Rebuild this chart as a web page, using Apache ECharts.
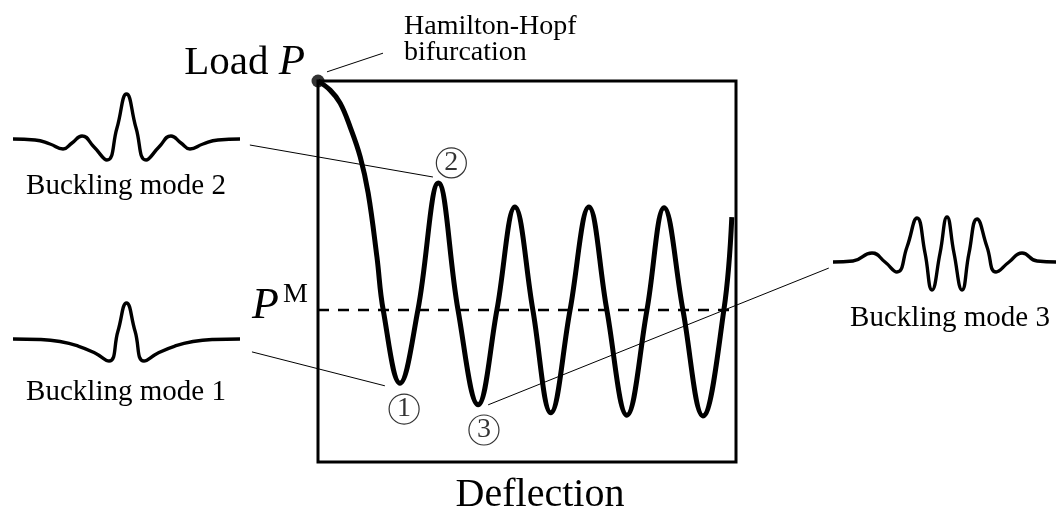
<!DOCTYPE html>
<html>
<head>
<meta charset="utf-8">
<script src="https://cdn.jsdelivr.net/npm/echarts@6/dist/echarts.min.js"></script>
<style>
  html, body { margin: 0; padding: 0; background: #fff; }
  #chart { width: 1056px; height: 512px; }
</style>
</head>
<body>
<div id="chart"></div>
<script>
// Load–deflection path of the strut (both axes in relative units 0–100)
const deflection = [0, 2.9, 5.3, 7.7, 10.1, 12.0, 14.1, 15.6, 19.6, 23.9, 28.8, 33.5, 38.3, 42.8, 47.1, 51.4, 55.7, 60.3, 64.8, 69.1, 73.9, 78.7, 82.8, 87.3, 92.1, 97.1, 99.0];
const load       = [100, 97.6, 94.2, 87.9, 80.1, 70.6, 53.8, 39.9, 20.7, 39.9, 73.2, 39.9, 15.0, 39.9, 66.9, 39.9, 12.9, 39.9, 66.9, 39.9, 12.3, 39.9, 66.7, 39.9, 12.1, 39.9, 64.3];

// Maxwell load P^M
const maxwellLoad = 39.9;

// Circled state markers
const markerNames = ['1', '2', '3'];
const markerDefl  = [20.6, 31.9, 39.7];
const markerLoad  = [13.9, 78.5, 8.4];

// Buckling mode shapes (position along strut -1..1, normalised displacement)
const mode1Pos  = [-1.0, -0.762, -0.586, -0.427, -0.278, -0.154, -0.075, 0, 0.075, 0.154, 0.278, 0.427, 0.586, 0.762, 1.0];
const mode1Disp = [0, -0.011, -0.056, -0.156, -0.311, -0.489, 0.178, 0.8, 0.178, -0.489, -0.311, -0.156, -0.056, -0.011, 0];

const mode2Pos  = [-1.0, -0.806, -0.674, -0.559, -0.480, -0.392, -0.286, -0.172, -0.084, 0, 0.084, 0.172, 0.286, 0.392, 0.480, 0.559, 0.674, 0.806, 1.0];
const mode2Disp = [0, -0.022, -0.111, -0.222, -0.089, 0.067, -0.178, -0.467, 0.244, 1.0, 0.244, -0.467, -0.178, 0.067, -0.089, -0.222, -0.111, -0.022, 0];

const mode3Pos  = [-1.0, -0.825, -0.658, -0.544, -0.439, -0.351, -0.263, -0.193, -0.132, -0.061, 0, 0.061, 0.132, 0.193, 0.263, 0.351, 0.430, 0.544, 0.658, 0.790, 1.0];
const mode3Disp = [0, 0.022, 0.2, 0, -0.222, 0.333, 0.978, 0.2, -0.622, 0.2, 1.0, 0.2, -0.622, 0.2, 0.956, 0.333, -0.222, 0, 0.2, 0.022, 0];

// Leader lines (start / end in load–deflection units)
const leaderX0 = [2.15, -16.3, -15.8, 40.7];
const leaderY0 = [102.4, 83.2, 28.9, 15.0];
const leaderX1 = [15.55, 27.5, 16.0, 122.2];
const leaderY1 = [107.3, 74.8, 20.0, 50.9];

const serif = '"Liberation Serif", "DejaVu Serif", serif';
const ink = '#000';

const pairs = (xs, ys) => xs.map((x, i) => [x, ys[i]]);
const hiddenAxis = (gridIndex, min, max) => ({
  type: 'value', gridIndex, min, max, show: false,
  splitLine: { show: false }, axisLine: { show: false }, axisTick: { show: false }, axisLabel: { show: false }
});

const modeSeries = (grid, xs, ys) => ({
  type: 'line', xAxisIndex: grid, yAxisIndex: grid,
  data: pairs(xs, ys), smooth: 0.5, symbol: 'none', clip: false, silent: true,
  lineStyle: { color: ink, width: 3.4, join: 'round' }
});

const chart = echarts.init(document.getElementById('chart'), null, { renderer: 'canvas' });

const option = {
  animation: false,
  backgroundColor: '#fff',
  grid: [
    { left: 318, top: 81, width: 418, height: 381, show: true, borderColor: ink, borderWidth: 3, backgroundColor: 'transparent', outerBoundsMode: 'none' },
    { left: 13, top: 94, width: 227, height: 90, outerBoundsMode: 'none' },
    { left: 13, top: 294, width: 227, height: 90, outerBoundsMode: 'none' },
    { left: 833, top: 217, width: 222, height: 90, outerBoundsMode: 'none' }
  ],
  xAxis: [hiddenAxis(0, 0, 100), hiddenAxis(1, -1, 1), hiddenAxis(2, -1, 1), hiddenAxis(3, -1, 0.947)],
  yAxis: [hiddenAxis(0, 0, 100), hiddenAxis(1, -1, 1), hiddenAxis(2, -1, 1), hiddenAxis(3, -1, 1)],
  series: [
    // Maxwell load level
    {
      type: 'line', xAxisIndex: 0, yAxisIndex: 0,
      data: [[0, maxwellLoad], [100, maxwellLoad]],
      symbol: 'none', silent: true, z: 2,
      lineStyle: { color: ink, width: 2.5, type: [11, 9] }
    },
    // Equilibrium path
    {
      type: 'line', xAxisIndex: 0, yAxisIndex: 0,
      data: pairs(deflection, load), smooth: 0.4, symbol: 'none', clip: false, z: 3,
      lineStyle: { color: ink, width: 5, cap: 'butt', join: 'round' }
    },
    // Hamilton-Hopf bifurcation point
    {
      type: 'scatter', xAxisIndex: 0, yAxisIndex: 0,
      data: [[deflection[0], load[0]]], symbolSize: 13, clip: false, z: 5,
      itemStyle: { color: ink }
    },
    // Circled state markers
    {
      type: 'scatter', xAxisIndex: 0, yAxisIndex: 0,
      data: markerNames.map((n, i) => ({ value: [markerDefl[i], markerLoad[i]], name: n })),
      symbol: 'circle', symbolSize: 30, clip: false, z: 5,
      itemStyle: { color: '#fff', borderColor: ink, borderWidth: 1.2 },
      label: {
        show: true, position: 'inside', formatter: p => p.name,
        color: ink, fontFamily: serif, fontSize: 28
      }
    },
    modeSeries(1, mode2Pos, mode2Disp),
    modeSeries(2, mode1Pos, mode1Disp),
    modeSeries(3, mode3Pos, mode3Disp)
  ]
};

chart.setOption(option);

// Leader lines and text annotations
const toPx = (x, y) => chart.convertToPixel({ gridIndex: 0 }, [x, y]);
const leaders = leaderX0.map((x0, i) => {
  const a = toPx(x0, leaderY0[i]);
  const b = toPx(leaderX1[i], leaderY1[i]);
  return {
    type: 'line', silent: true, z: 2,
    shape: { x1: a[0], y1: a[1], x2: b[0], y2: b[1] },
    style: { stroke: ink, lineWidth: 1 }
  };
});

const pmY = toPx(0, maxwellLoad)[1];
const txt = (text, x, y, size, align, extra) => ({
  type: 'text', x, y, silent: true,
  style: Object.assign({ text, fill: ink, font: size + 'px ' + serif, align, verticalAlign: 'middle' }, extra || {})
});

chart.setOption({
  graphic: leaders.concat([
    {
      type: 'text', x: 305, y: 63, silent: true,
      style: {
        text: '{r|Load }{i|P}', align: 'right', verticalAlign: 'middle', fill: ink,
        rich: {
          r: { fontFamily: serif, fontSize: 41, fill: ink },
          i: { fontFamily: serif, fontSize: 43, fontStyle: 'italic', fill: ink }
        }
      }
    },
    txt('Hamilton-Hopf', 404, 27, 28, 'left'),
    txt('bifurcation', 404, 53, 28, 'left'),
    txt('Deflection', 540, 495, 40, 'center'),
    txt('P', 252, pmY - 4, 44, 'left', { font: 'italic 44px ' + serif }),
    txt('M', 283, pmY - 15, 28, 'left'),
    txt('Buckling mode 2', 126, 186, 29, 'center'),
    txt('Buckling mode 1', 126, 392, 29, 'center'),
    txt('Buckling mode 3', 950, 318, 29, 'center')
  ])
});
</script>
</body>
</html>
